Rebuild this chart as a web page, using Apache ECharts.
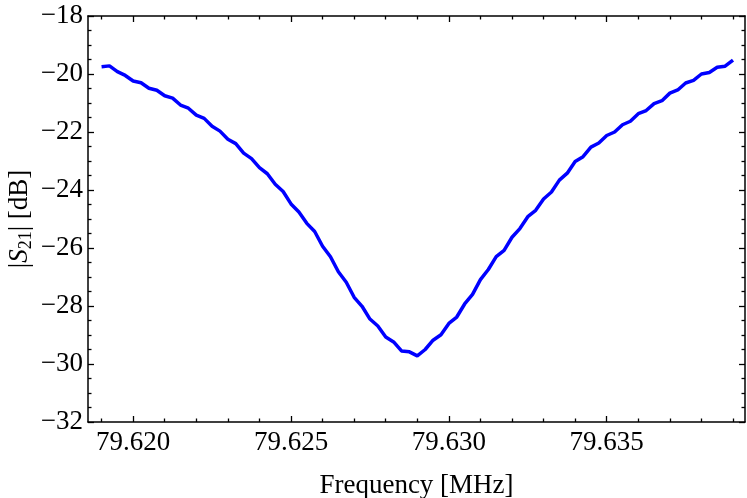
<!DOCTYPE html>
<html>
<head>
<meta charset="utf-8">
<script src="https://cdn.jsdelivr.net/npm/echarts@6/dist/echarts.min.js"></script>
<style>
  html, body { margin: 0; padding: 0; background: #fff; }
  #chart { width: 747px; height: 498px; }
</style>
</head>
<body>
<div id="chart"></div>
<script>
// frequency [MHz]
var freq = [
  79.61900, 79.61925, 79.61950, 79.61975, 79.62000, 79.62025, 79.62050, 79.62075,
  79.62100, 79.62125, 79.62150, 79.62175, 79.62200, 79.62225, 79.62250, 79.62275,
  79.62300, 79.62325, 79.62350, 79.62375, 79.62400, 79.62425, 79.62450, 79.62475,
  79.62500, 79.62525, 79.62550, 79.62575, 79.62600, 79.62625, 79.62650, 79.62675,
  79.62700, 79.62725, 79.62750, 79.62775, 79.62800, 79.62825, 79.62850, 79.62875,
  79.62900, 79.62925, 79.62950, 79.62975, 79.63000, 79.63025, 79.63050, 79.63075,
  79.63100, 79.63125, 79.63150, 79.63175, 79.63200, 79.63225, 79.63250, 79.63275,
  79.63300, 79.63325, 79.63350, 79.63375, 79.63400, 79.63425, 79.63450, 79.63475,
  79.63500, 79.63525, 79.63550, 79.63575, 79.63600, 79.63625, 79.63650, 79.63675,
  79.63700, 79.63725, 79.63750, 79.63775, 79.63800, 79.63825, 79.63850, 79.63875,
  79.63900
];
// |S21| [dB]
var s21 = [
  -19.75, -19.72, -19.92, -20.05, -20.24, -20.30, -20.49, -20.56,
  -20.75, -20.83, -21.07, -21.18, -21.42, -21.53, -21.80, -21.97,
  -22.25, -22.40, -22.73, -22.92, -23.23, -23.44, -23.80, -24.05,
  -24.48, -24.76, -25.15, -25.43, -25.94, -26.30, -26.82, -27.18,
  -27.70, -28.01, -28.45, -28.69, -29.07, -29.24, -29.55, -29.58,
  -29.72, -29.50, -29.18, -28.99, -28.60, -28.38, -27.93, -27.60,
  -27.09, -26.74, -26.30, -26.08, -25.63, -25.33, -24.92, -24.70,
  -24.31, -24.07, -23.66, -23.42, -23.02, -22.85, -22.52, -22.38,
  -22.12, -22.00, -21.75, -21.63, -21.37, -21.26, -21.02, -20.92,
  -20.66, -20.55, -20.31, -20.22, -20.00, -19.95, -19.77, -19.73,
  -19.52
];
// tick values
var xLabels = [79.620, 79.625, 79.630, 79.635];
var xMinor = [79.619, 79.621, 79.622, 79.623, 79.624, 79.626, 79.627, 79.628, 79.629,
  79.631, 79.632, 79.633, 79.634, 79.636, 79.637, 79.638, 79.639];

var font = 'Liberation Serif';
var xMin = 79.61857, xMax = 79.63938;

var chart = echarts.init(document.getElementById('chart'));

function xAxisDef(pos, minor, withLabels) {
  return {
    type: 'value',
    position: pos,
    min: xMin,
    max: xMax,
    axisLine: { show: !minor, onZero: false, lineStyle: { color: '#000', width: 1.5 } },
    axisTick: {
      show: true, inside: true, length: minor ? 3.5 : 6,
      customValues: minor ? xMinor : xLabels,
      lineStyle: { color: '#000', width: 1.3 }
    },
    axisLabel: {
      show: withLabels,
      customValues: xLabels,
      formatter: function (v) { return v.toFixed(3); },
      color: '#000', fontFamily: font, fontSize: 27, margin: 7
    },
    splitLine: { show: false }
  };
}

function yAxisDef(pos, withLabels) {
  return {
    type: 'value',
    position: pos,
    min: -32,
    max: -18,
    interval: 2,
    axisLine: { show: true, onZero: false, lineStyle: { color: '#000', width: 1.5 } },
    axisTick: { show: true, inside: true, length: 6, lineStyle: { color: '#000', width: 1.3 } },
    minorTick: { show: true, splitNumber: 4, length: 3.5, lineStyle: { color: '#000', width: 1.3 } },
    axisLabel: {
      show: withLabels,
      formatter: function (v) { return '\u2212' + Math.abs(v); },
      color: '#000', fontFamily: font, fontSize: 27, margin: 5
    },
    splitLine: { show: false },
    minorSplitLine: { show: false }
  };
}

var xBottom = xAxisDef('bottom', false, true);
xBottom.name = 'Frequency [MHz]';
xBottom.nameLocation = 'middle';
xBottom.nameGap = 50;
xBottom.nameMoveOverlap = false;
xBottom.nameTextStyle = { color: '#000', fontFamily: font, fontSize: 27 };

var yLeft = yAxisDef('left', true);
yLeft.name = '|{i|S}{s|21}| [dB]';
yLeft.nameLocation = 'middle';
yLeft.nameRotate = 90;
yLeft.nameGap = 53;
yLeft.nameMoveOverlap = false;
yLeft.nameTextStyle = {
  color: '#000', fontFamily: font, fontSize: 27,
  rich: {
    i: { fontStyle: 'italic', fontFamily: font, fontSize: 27, color: '#000' },
    s: { fontFamily: font, fontSize: 18, color: '#000', padding: [12, 0, 0, 0] }
  }
};

var option = {
  backgroundColor: '#fff',
  animation: false,
  grid: { left: 88, right: 2, top: 16, bottom: 76, containLabel: false, outerBoundsMode: 'none' },
  xAxis: [
    xBottom,
    xAxisDef('bottom', true, false),
    xAxisDef('top', false, false),
    xAxisDef('top', true, false)
  ],
  yAxis: [yLeft, yAxisDef('right', false)],
  series: [{
    type: 'line',
    xAxisIndex: 0,
    yAxisIndex: 0,
    showSymbol: false,
    symbol: 'none',
    lineStyle: { color: '#0000ff', width: 3.5 },
    data: freq.map(function (f, i) { return [f, s21[i]]; })
  }]
};

chart.setOption(option);
</script>
</body>
</html>
